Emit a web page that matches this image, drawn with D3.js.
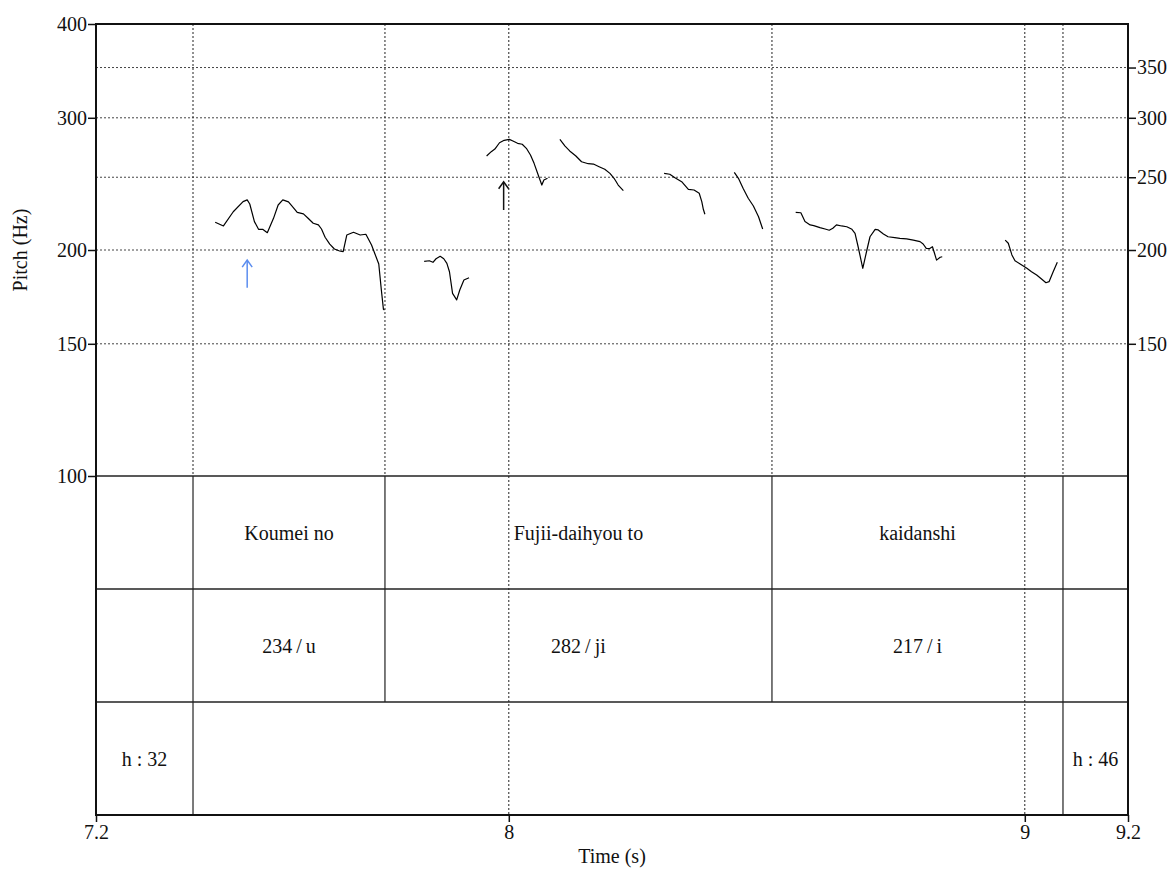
<!DOCTYPE html>
<html>
<head>
<meta charset="utf-8">
<script src="https://cdn.jsdelivr.net/npm/d3@7"></script>
<style>
  html, body { margin: 0; padding: 0; background: #fff; }
  svg { display: block; }
  text { font-family: "Liberation Serif", "Times New Roman", serif; fill: #111; }
</style>
</head>
<body>
<svg id="chart" width="1168" height="871"></svg>
<script>
// ---------------- data ----------------
const timeDomain = [7.2, 9.2];
const pitchDomain = [100, 400];
const leftTicks = [100, 150, 200, 300, 400];
const rightTicks = [150, 200, 250, 300, 350];
const gridPitch = [150, 200, 250, 300, 350];
const timeTicks = [7.2, 8, 9, 9.2];
const timeTickLabels = ["7.2", "8", "9", "9.2"];
const gridTimes = [8, 9];

// pitch contour segments (time s, pitch Hz)
const seg1T = [7.431,7.447,7.466,7.485,7.493,7.498,7.507,7.515,7.523,7.532,7.544,7.553,7.562,7.573,7.582,7.590,7.602,7.610,7.621,7.631,7.637,7.644,7.653,7.662,7.672,7.679,7.686,7.699,7.712,7.723,7.734,7.748,7.753,7.757,7.759];
const seg1F = [217.8,215.3,224.9,232.0,233.2,230.3,218.2,213.1,213.1,210.9,220.4,229.6,233.2,231.8,228.0,224.5,223.4,220.8,217.1,216.0,213.3,208.0,203.6,200.6,199.4,199.0,209.4,211.2,209.4,209.9,203.1,191.6,176.9,166.8,166.4];
const seg2T = [7.836,7.846,7.853,7.859,7.867,7.874,7.880,7.885,7.891,7.899,7.905,7.913,7.923];
const seg2F = [193.2,193.5,192.6,194.7,196.2,194.7,192.0,187.1,175.1,171.6,176.9,182.4,183.7];
const seg3T = [7.957,7.966,7.973,7.982,7.991,8.001,8.008,8.017,8.026,8.034,8.042,8.049,8.057,8.064,8.068,8.075];
const seg3F = [266.8,270.4,272.6,277.9,280.0,280.8,279.4,277.4,276.6,273.2,267.6,260.9,251.7,244.1,247.9,249.2];
const seg4T = [8.099,8.109,8.118,8.130,8.141,8.154,8.164,8.175,8.186,8.196,8.204,8.212,8.222];
const seg4F = [280.8,275.1,271.0,266.8,262.2,260.6,260.3,258.2,256.2,253.0,249.2,244.1,239.9];
const seg5T = [8.301,8.312,8.322,8.335,8.348,8.359,8.369,8.374,8.377,8.380];
const seg5F = [253.0,252.3,249.6,246.6,240.9,240.4,238.0,232.0,226.6,223.2];
const seg6T = [8.437,8.445,8.454,8.464,8.474,8.484,8.492];
const seg6F = [253.8,249.2,241.7,234.4,228.9,221.5,213.3];
const seg7T = [8.556,8.566,8.574,8.584,8.591,8.603,8.613,8.621,8.628,8.635,8.645,8.655,8.665,8.671,8.677,8.686,8.694,8.700,8.710,8.716,8.726,8.735,8.748,8.758,8.771,8.784,8.797,8.803,8.809,8.815,8.821,8.825,8.829,8.836,8.840];
const seg7F = [224.5,224.2,218.2,216.0,215.5,214.2,213.3,212.5,213.8,216.0,215.3,214.8,213.1,210.5,202.0,189.1,200.0,208.3,213.1,212.7,210.1,208.3,207.7,207.3,206.9,206.2,205.2,203.7,201.0,200.8,202.0,198.0,193.9,195.6,195.9];
const seg8T = [8.962,8.968,8.975,8.981,8.991,9.004,9.013,9.023,9.033,9.041,9.047,9.055,9.063];
const seg8F = [206.2,204.2,197.0,193.5,191.6,189.1,187.1,185.2,182.8,180.9,181.5,187.1,192.6];
const segments = [[seg1T,seg1F],[seg2T,seg2F],[seg3T,seg3F],[seg4T,seg4F],[seg5T,seg5F],[seg6T,seg6F],[seg7T,seg7F],[seg8T,seg8F]];

// arrows: time, from Hz (tail), to Hz (head)
const arrowTimes = [7.493, 7.990];
const arrowTailHz = [178.2, 226.1];
const arrowHeadHz = [193.9, 246.6];
const arrowColors = ["#5b8def", "#111"];

// text tiers
const tierBoundaries = [[7.388, 7.760, 8.510, 9.074], [7.388, 7.760, 8.510, 9.074], [7.388, 9.074]];
const tier1Labels = [["Koumei no", 7.388, 7.760], ["Fujii-daihyou to", 7.760, 8.510], ["kaidanshi", 8.510, 9.074]];
const tier2Labels = [["234\u2009/\u2009u", 7.388, 7.760], ["282\u2009/\u2009ji", 7.760, 8.510], ["217\u2009/\u2009i", 8.510, 9.074]];
const tier3Labels = [["h : 32", 7.2, 7.388], ["h : 46", 9.074, 9.2]];
const tierLabels = [tier1Labels, tier2Labels, tier3Labels];

// ---------------- drawing ----------------
const FS = 20;
const svg = d3.select("#chart");
const L = 96, R = 1128, T = 24, PB = 476, B = 815;
const x = d3.scaleLinear().domain(timeDomain).range([L, R]);
const y = d3.scaleLog().domain(pitchDomain).range([PB, T]);
const tierY = d3.scaleLinear().domain([0, 3]).range([PB, B]);

const grid = svg.append("g");
grid.selectAll("line.hg").data(gridPitch).join("line")
  .attr("x1", L).attr("x2", R).attr("y1", d => y(d)).attr("y2", d => y(d))
  .attr("stroke", "#444").attr("stroke-width", 1).attr("stroke-dasharray", "2,2");
grid.selectAll("line.vb").data(tierBoundaries[0]).join("line")
  .attr("x1", d => x(d)).attr("x2", d => x(d)).attr("y1", T).attr("y2", PB)
  .attr("stroke", "#222").attr("stroke-width", 1).attr("stroke-dasharray", "2,2");
grid.selectAll("line.vt").data(gridTimes).join("line")
  .attr("x1", d => x(d)).attr("x2", d => x(d)).attr("y1", T).attr("y2", B)
  .attr("stroke", "#222").attr("stroke-width", 1).attr("stroke-dasharray", "2,2");

tierBoundaries.forEach((bs, i) => {
  svg.append("g").selectAll("line").data(bs).join("line")
    .attr("x1", d => x(d)).attr("x2", d => x(d))
    .attr("y1", tierY(i)).attr("y2", tierY(i + 1))
    .attr("stroke", "#222").attr("stroke-width", 1.2);
});
svg.append("g").selectAll("line").data([0, 1, 2]).join("line")
  .attr("x1", L).attr("x2", R).attr("y1", d => tierY(d)).attr("y2", d => tierY(d))
  .attr("stroke", "#222").attr("stroke-width", 1.6);

tierLabels.forEach((labels, i) => {
  svg.append("g").selectAll("text").data(labels).join("text")
    .attr("x", d => (x(d[1]) + x(d[2])) / 2)
    .attr("y", (tierY(i) + tierY(i + 1)) / 2)
    .attr("dy", "0.35em")
    .attr("text-anchor", "middle")
    .attr("font-size", FS)
    .text(d => d[0]);
});

const line = d3.line().x(d => x(d[0])).y(d => y(d[1]));
svg.append("g").selectAll("path").data(segments.map(([ts, fs]) => ts.map((t, i) => [t, fs[i]]))).join("path")
  .attr("d", line).attr("fill", "none").attr("stroke", "#000").attr("stroke-width", 1.2)
  .attr("stroke-linejoin", "round");

arrowTimes.forEach((t, i) => {
  const ax = x(t), y0 = y(arrowTailHz[i]), y1 = y(arrowHeadHz[i]);
  const g = svg.append("g").attr("stroke", arrowColors[i]).attr("stroke-width", 1.5).attr("fill", "none");
  g.append("line").attr("x1", ax).attr("x2", ax).attr("y1", y0).attr("y2", y1 + 1);
  g.append("path").attr("d", `M${ax - 5},${y1 + 7}L${ax},${y1}L${ax + 5},${y1 + 7}`);
});

svg.append("rect").attr("x", L).attr("y", T).attr("width", R - L).attr("height", B - T)
  .attr("fill", "none").attr("stroke", "#111").attr("stroke-width", 2);

const leftAxis = d3.axisLeft(y).tickValues(leftTicks).tickFormat(d3.format("d")).tickSize(8).tickPadding(1);
const la = svg.append("g").attr("transform", `translate(${L},0)`).call(leftAxis);
const rightAxis = d3.axisRight(y).tickValues(rightTicks).tickFormat(d3.format("d")).tickSize(8).tickPadding(1);
const ra = svg.append("g").attr("transform", `translate(${R},0)`).call(rightAxis);
const bottomAxis = d3.axisBottom(x).tickValues(timeTicks).tickFormat((d, i) => timeTickLabels[i]).tickSize(7).tickPadding(3);
const ba = svg.append("g").attr("transform", `translate(0,${B})`).call(bottomAxis);

[la, ra, ba].forEach(g => {
  g.select(".domain").remove();
  g.selectAll(".tick line").attr("stroke", "#111").attr("stroke-width", 1.5);
  g.selectAll(".tick text").attr("font-family", "Liberation Serif, serif").attr("font-size", FS).attr("fill", "#111");
});

svg.append("text").attr("x", 612).attr("y", 863).attr("text-anchor", "middle").attr("font-size", FS).text("Time (s)");
svg.append("text").attr("transform", "translate(27,250) rotate(-90)").attr("text-anchor", "middle").attr("font-size", FS).text("Pitch (Hz)");
</script>
</body>
</html>
